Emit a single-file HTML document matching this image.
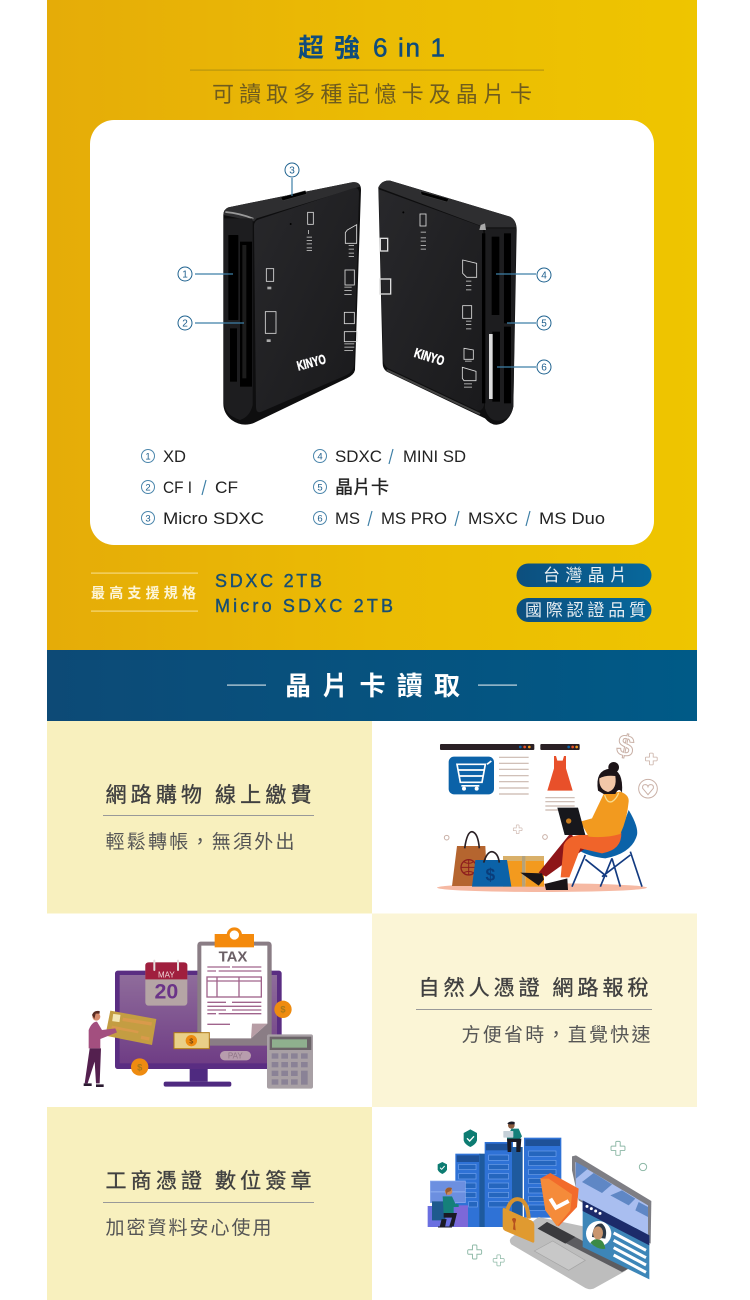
<!DOCTYPE html>
<html lang="zh-Hant">
<head>
<meta charset="utf-8">
<title>超強 6 in 1</title>
<style>
html,body{margin:0;padding:0;background:#fff}
svg{display:block}
text{font-family:"Liberation Sans","Noto Sans CJK TC",sans-serif}
.cn{font-family:"Noto Sans CJK TC","Liberation Sans",sans-serif}
</style>
</head>
<body>
<svg xmlns="http://www.w3.org/2000/svg" width="750" height="1300" viewBox="0 0 750 1300">
<defs>
<linearGradient id="y" x1="0" x2="1" y1="0" y2="0"><stop offset="0" stop-color="#E5AC08"/><stop offset=".5" stop-color="#EBBB04"/><stop offset="1" stop-color="#EEC500"/></linearGradient>
<linearGradient id="b" x1="0" x2="1" y1="0" y2="0"><stop offset="0" stop-color="#0D4A76"/><stop offset="1" stop-color="#005A87"/></linearGradient>
<linearGradient id="p" x1="0" x2="1"><stop offset="0" stop-color="#0D4F7E"/><stop offset="1" stop-color="#07689C"/></linearGradient>
<linearGradient id="d" x1="0" x2="1" y1="0" y2="1"><stop offset="0" stop-color="#28282b"/><stop offset="1" stop-color="#1a1a1c"/></linearGradient>
<linearGradient id="m" x1="0" x2="0" y1="0" y2="1"><stop offset="0" stop-color="#8F6C9B"/><stop offset="1" stop-color="#6F3D85"/></linearGradient>
<path id="plus" d="M-7,-20a3,3 0 0 1 3,-2h8a3,3 0 0 1 3,2v13h13a3,3 0 0 1 2,3v8a3,3 0 0 1-2,3h-13v13a3,3 0 0 1-3,2h-8a3,3 0 0 1-3,-2v-13h-13a3,3 0 0 1-2,-3v-8a3,3 0 0 1 2,-3h13z"/>
</defs>

<!-- yellow section -->
<rect x="47" y="0" width="650" height="650" fill="url(#y)"/>
<text class="cn" x="298" y="57" font-size="26" font-weight="700" fill="#0F4C7C">超</text>
<text class="cn" x="334" y="57" font-size="26" font-weight="700" fill="#0F4C7C">強</text>
<text x="373" y="56.5" font-size="26" fill="#0F4C7C" stroke="#0F4C7C" stroke-width=".5" textLength="72">6 in 1</text>
<rect x="190" y="69.5" width="354" height="1.2" fill="#B8960E"/>
<text class="cn" x="212" y="102" font-size="22" fill="#6F5C1E" textLength="320">可讀取多種記憶卡及晶片卡</text>

<rect x="90" y="120" width="564" height="425" rx="24" fill="#fff"/>

<!-- devices -->
<g transform="translate(160 150) scale(.33333)">
  <!-- left -->
  <path d="M205,172L575,97Q603,93 603,120L585,660Q582,675 560,685L290,815Q250,835 215,810Q190,790 190,760L190,195Q190,178 205,172Z" fill="#0e0e0f"/>
  <path d="M205,172L575,97Q598,96 600,110L290,205 282,214 190,195Q192,178 205,172Z" fill="#2e2e30"/>
  <path d="M196,186Q240,190 280,206" stroke="#9a9a9a" stroke-width="5" fill="none"/>
  <path d="M297,208L578,115Q598,110 597,130L582,645Q580,665 560,675L305,785Q288,792 288,770L282,228Q282,212 297,208Z" fill="url(#d)"/>
  <path d="M192,205H278V765Q270,800 240,810Q196,795 192,760Z" fill="#1d1d1f"/>
  <rect x="205" y="255" width="30" height="255" rx="2" fill="#000"/>
  <rect x="240" y="275" width="36" height="435" fill="#000"/>
  <rect x="247" y="285" width="12" height="400" fill="#1c1c1c"/>
  <rect x="210" y="535" width="21" height="160" fill="#000"/>
  <path d="M362,142L436,122 440,132 368,152Z" fill="#000" stroke="#555"/>
  <circle cx="392" cy="222" r="3" fill="#000"/>
  <g fill="none" stroke="#ddd" stroke-width="2.5">
    <rect x="443" y="187" width="17" height="36"/>
    <path d="M562,240L590,224V280H556V248Z"/>
    <rect x="319" y="356" width="22" height="38"/>
    <rect x="316" y="485" width="32" height="65"/>
    <rect x="555" y="360" width="28" height="45"/>
    <rect x="553" y="487" width="30" height="34"/>
    <rect x="553" y="545" width="38" height="30"/>
  </g>
  <g fill="#aaa">
    <rect x="444" y="240" width="3" height="12"/><rect x="440" y="260" width="16" height="3"/><rect x="440" y="270" width="16" height="3"/><rect x="440" y="280" width="16" height="3"/><rect x="440" y="292" width="16" height="3"/><rect x="440" y="300" width="16" height="3"/>
    <rect x="566" y="285" width="16" height="3"/><rect x="566" y="296" width="16" height="3"/><rect x="566" y="308" width="16" height="3"/><rect x="566" y="318" width="16" height="3"/>
    <rect x="322" y="410" width="12" height="8"/><rect x="320" y="568" width="12" height="8"/>
    <rect x="553" y="410" width="22" height="3"/><rect x="553" y="420" width="22" height="3"/><rect x="553" y="432" width="22" height="3"/>
    <rect x="553" y="580" width="30" height="3"/><rect x="553" y="590" width="30" height="3"/><rect x="553" y="600" width="26" height="3"/>
  </g>
  <text x="415" y="662" font-size="40" font-weight="700" fill="#fff" stroke="#fff" stroke-width="1.5" textLength="88" lengthAdjust="spacingAndGlyphs" transform="rotate(-15 415 662)">KINYO</text>
  <!-- right -->
  <path d="M655,112Q665,90 690,92L1050,200Q1070,210 1070,240L1060,770Q1055,800 1030,818Q1000,835 975,805L680,665Q668,655 668,640Z" fill="#0e0e0f"/>
  <path d="M655,112Q665,90 690,92L1050,200Q1068,212 1068,232H975Z" fill="#2e2e30"/>
  <path d="M656,118L955,226Q970,232 970,250L972,765Q965,790 945,778L685,655Q672,648 670,630Z" fill="url(#d)"/>
  <path d="M975,235H1068L1060,770Q1050,815 1010,812Q985,810 975,775Z" fill="#1d1d1f"/>
  <path d="M962,225L975,220 978,240 958,240Z" fill="#aaa"/>
  <path d="M680,660L960,792" stroke="#444" stroke-width="6"/>
  <rect x="966" y="250" width="10" height="510" fill="#000"/>
  <rect x="995" y="260" width="23" height="235" fill="#000"/>
  <rect x="1032" y="250" width="21" height="270" fill="#000"/>
  <rect x="1032" y="530" width="21" height="230" fill="#000"/>
  <rect x="997" y="545" width="23" height="210" fill="#000"/>
  <rect x="987" y="552" width="11" height="195" fill="#dcdcdc"/>
  <path d="M782,124L866,146 862,156 784,134Z" fill="#000" stroke="#555"/>
  <circle cx="730" cy="187" r="3" fill="#000"/>
  <g fill="none" stroke="#ddd" stroke-width="2.5">
    <rect x="780" y="192" width="18" height="36"/>
    <rect x="661" y="265" width="22" height="38" stroke-width="4"/>
    <rect x="660" y="387" width="32" height="45" stroke-width="4"/>
    <path d="M908,330L950,340V382H920L908,370Z"/>
    <rect x="908" y="467" width="27" height="38"/>
    <path d="M912,595L940,600V628H912Z"/>
    <path d="M907,652L948,664V692H912L907,685Z"/>
  </g>
  <g fill="#aaa">
    <rect x="782" y="245" width="16" height="3"/><rect x="782" y="262" width="16" height="3"/><rect x="782" y="272" width="16" height="3"/><rect x="782" y="285" width="16" height="3"/><rect x="782" y="296" width="16" height="3"/>
    <rect x="918" y="392" width="16" height="3"/><rect x="918" y="405" width="16" height="3"/><rect x="918" y="418" width="16" height="3"/>
    <rect x="918" y="512" width="16" height="3"/><rect x="918" y="522" width="16" height="3"/><rect x="918" y="535" width="16" height="3"/>
    <rect x="915" y="632" width="20" height="3"/><rect x="912" y="700" width="24" height="3"/><rect x="912" y="710" width="24" height="3"/>
  </g>
  <text x="760" y="620" font-size="40" font-weight="700" fill="#fff" stroke="#fff" stroke-width="1.5" textLength="92" lengthAdjust="spacingAndGlyphs" transform="rotate(17 760 620)">KINYO</text>
</g>

<!-- callouts -->
<g stroke="#3E7FA6" stroke-width="1.2" fill="none">
  <path d="M292,178V196M195,274H233M195,323H244M496,274H536M507,323H536M497,367H536"/>
</g>
<g fill="#fff" stroke="#1E628F" stroke-width="1">
  <circle cx="292" cy="170" r="7"/><circle cx="185" cy="274" r="7"/><circle cx="185" cy="323" r="7"/><circle cx="544" cy="275" r="7"/><circle cx="544" cy="323" r="7"/><circle cx="544" cy="367" r="7"/>
</g>
<g fill="#1E5F8D" font-size="10" text-anchor="middle">
  <text x="292" y="173.5">3</text><text x="185" y="277.5">1</text><text x="185" y="326.5">2</text><text x="544" y="278.5">4</text><text x="544" y="326.5">5</text><text x="544" y="370.5">6</text>
</g>

<!-- list -->
<g fill="#fff" stroke="#4B86AC" stroke-width="1">
  <circle cx="148" cy="456" r="6.5"/><circle cx="148" cy="487" r="6.5"/><circle cx="148" cy="518" r="6.5"/><circle cx="320" cy="456" r="6.5"/><circle cx="320" cy="487" r="6.5"/><circle cx="320" cy="518" r="6.5"/>
</g>
<g fill="#1E5F8D" font-size="9.5" text-anchor="middle">
  <text x="148" y="459.5">1</text><text x="148" y="490.5">2</text><text x="148" y="521.5">3</text><text x="320" y="459.5">4</text><text x="320" y="490.5">5</text><text x="320" y="521.5">6</text>
</g>
<g fill="#222" font-size="17">
  <text x="163" y="462" textLength="23" lengthAdjust="spacingAndGlyphs">XD</text>
  <text x="163" y="493" textLength="29" lengthAdjust="spacingAndGlyphs">CF I</text>
  <text x="215" y="493" textLength="23" lengthAdjust="spacingAndGlyphs">CF</text>
  <text x="163" y="524" textLength="101" lengthAdjust="spacingAndGlyphs">Micro SDXC</text>
  <text x="335" y="462" textLength="47" lengthAdjust="spacingAndGlyphs">SDXC</text>
  <text x="403" y="462" textLength="63" lengthAdjust="spacingAndGlyphs">MINI SD</text>
  <text class="cn" x="335" y="493.5" font-size="18" stroke="#222" stroke-width=".35">晶片卡</text>
  <text x="335" y="524" textLength="25" lengthAdjust="spacingAndGlyphs">MS</text>
  <text x="381" y="524" textLength="66" lengthAdjust="spacingAndGlyphs">MS PRO</text>
  <text x="468" y="524" textLength="50" lengthAdjust="spacingAndGlyphs">MSXC</text>
  <text x="539" y="524" textLength="66" lengthAdjust="spacingAndGlyphs">MS Duo</text>
</g>
<g stroke="#3E7FA6" stroke-width="1.2">
  <path d="M393,449L389,464M206,480L202,495M372,511L368,526M459,511L455,526M530,511L526,526"/>
</g>

<!-- spec row -->
<rect x="91" y="572.5" width="107" height="1.2" fill="#F6D97A"/>
<rect x="91" y="610.5" width="107" height="1.2" fill="#F6D97A"/>
<text class="cn" x="91" y="598" font-size="14" font-weight="700" fill="#FDF5D8" textLength="105">最高支援規格</text>
<text x="215" y="587" font-size="18" fill="#174E74" stroke="#174E74" stroke-width=".4" textLength="107">SDXC 2TB</text>
<text x="215" y="612" font-size="18" fill="#174E74" stroke="#174E74" stroke-width=".4" textLength="178">Micro SDXC 2TB</text>
<rect x="516.500" y="563.500" width="135" height="23.500" rx="11.700" fill="url(#p)"/>
<rect x="516.500" y="598" width="135" height="24" rx="12" fill="url(#p)"/>
<text class="cn" x="543" y="581" font-size="17" fill="#E8EEF2" textLength="84">台灣晶片</text>
<text class="cn" x="525" y="616" font-size="17" fill="#E8EEF2" textLength="121">國際認證品質</text>

<!-- blue band -->
<rect x="47" y="650" width="650" height="71" fill="url(#b)"/>
<rect x="227" y="684.500" width="39" height="1.200" fill="#C9D9E2"/>
<rect x="478" y="684.500" width="39" height="1.200" fill="#C9D9E2"/>
<text class="cn" x="285" y="695" font-size="26" font-weight="700" fill="#fff" textLength="175">晶片卡讀取</text>

<!-- grid -->
<rect x="47" y="721" width="325" height="192.500" fill="#F8F0BE"/>
<rect x="372" y="913.500" width="325" height="193.500" fill="#FBF5D6"/>
<rect x="47" y="1107" width="325" height="193" fill="#F8F0BE"/>

<text class="cn" x="105.500" y="802" font-size="21" fill="#404040" stroke="#404040" stroke-width=".35" textLength="206">網路購物 線上繳費</text>
<rect x="103" y="815" width="211" height="1" fill="#999"/>
<text class="cn" x="105.500" y="848" font-size="19" fill="#555" textLength="189">輕鬆轉帳&#65292;無須外出</text>
<text class="cn" x="418.500" y="995" font-size="21" fill="#404040" stroke="#404040" stroke-width=".35" textLength="230">自然人憑證 網路報稅</text>
<rect x="416" y="1009" width="236" height="1" fill="#999"/>
<text class="cn" x="461.500" y="1041" font-size="19" fill="#555" textLength="189">方便省時&#65292;直覺快速</text>
<text class="cn" x="105.500" y="1188" font-size="21" fill="#404040" stroke="#404040" stroke-width=".35" textLength="206">工商憑證 數位簽章</text>
<rect x="103" y="1202" width="211" height="1" fill="#999"/>
<text class="cn" x="105.500" y="1234" font-size="19" fill="#555" textLength="166">加密資料安心使用</text>

<!-- illustration 1 -->
<g transform="translate(372 720) scale(.33333)">
  <rect x="204" y="72" width="283" height="18" rx="3" fill="#2A2025"/>
  <rect x="505" y="72" width="118" height="18" rx="3" fill="#2A2025"/>
  <g><circle cx="445" cy="81" r="4" fill="#0B62A8"/><circle cx="458" cy="81" r="4" fill="#E8502A"/><circle cx="472" cy="81" r="4" fill="#F39A1E"/><circle cx="590" cy="81" r="4" fill="#0B62A8"/><circle cx="602" cy="81" r="4" fill="#E8502A"/><circle cx="614" cy="81" r="4" fill="#F39A1E"/></g>
  <rect x="230" y="110" width="136" height="113" rx="16" fill="#0B62A8"/>
  <path d="M255,133H340L330,187H265ZM258,150H337M260,168H333M345,133L358,123" fill="none" stroke="#fff" stroke-width="5"/>
  <circle cx="276" cy="206" r="6" fill="#fff"/><circle cx="314" cy="206" r="6" fill="#fff"/><rect x="268" y="195" width="54" height="5" fill="#fff"/>
  <path d="M381,112H470M381,130H470M381,148H470M381,167H470M381,185H470M381,204H470M381,222H470M520,233H608M520,245H608M520,258H608M520,270H580" stroke="#C9B8AE" stroke-width="3.500"/>
  <path d="M546,108H552L556,122H572L576,108H582L582,145 602,212H526L546,145Z" fill="#E8502A"/>
  <text x="760" y="108" font-size="90" text-anchor="middle" font-weight="700" fill="#fff" stroke="#C9B0A6" stroke-width="3" transform="rotate(12 760 80)">$</text>
  <use href="#plus" x="838" y="117" fill="#fff" stroke="#C9B0A6" stroke-width="3" transform="translate(838 117) scale(.8) translate(-838 -117)"/>
  <circle cx="828" cy="206" r="28" fill="#fff" stroke="#C9B0A6" stroke-width="3"/>
  <path d="M828,224L812,205Q810,194 820,194Q826,194 828,200Q830,194 836,194Q846,194 844,205Z" fill="#fff" stroke="#C9B0A6" stroke-width="3"/>
  <circle cx="224" cy="353" r="7" fill="#fff" stroke="#C9B0A6" stroke-width="3"/>
  <circle cx="519" cy="351" r="7" fill="#fff" stroke="#C9B0A6" stroke-width="3"/>
  <use href="#plus" x="437" y="328" fill="#fff" stroke="#C9B0A6" stroke-width="3" transform="translate(437 328) scale(.6) translate(-437 -328)"/>
  <ellipse cx="510" cy="503" rx="315" ry="13" fill="#F6B9A3"/>
  <rect x="393" y="408" width="57" height="92" fill="#F39A1E"/><rect x="460" y="408" width="56" height="92" fill="#F39A1E"/>
  <rect x="393" y="408" width="123" height="15" fill="#D9B06A"/><rect x="450" y="408" width="10" height="92" fill="#B5A27A"/>
  <path d="M255,378H340L346,498H240Z" fill="#B5652F"/>
  <path d="M278,385Q285,335 300,335Q318,338 322,385" fill="none" stroke="#2A2025" stroke-width="5"/>
  <circle cx="290" cy="442" r="23" fill="none" stroke="#8E1E1E" stroke-width="4"/><path d="M267,442H313M290,419V465M275,425Q290,435 305,425M275,458Q290,450 305,458" fill="none" stroke="#8E1E1E" stroke-width="3"/>
  <path d="M310,420H405L418,500H300Z" fill="#0B62A8"/>
  <path d="M335,428Q345,395 360,395Q378,398 382,428" fill="none" stroke="#2A2025" stroke-width="5"/>
  <text x="355" y="482" font-size="52" font-weight="700" text-anchor="middle" fill="#0A3D7A">$</text>
  <path d="M770,270Q800,320 795,345Q780,400 700,415Q650,410 615,388L700,370 745,340Z" fill="#0B62A8"/>
  <path d="M640,405L600,500M775,395L810,500M720,415L685,500M640,418L705,470M775,405L690,470M720,415L745,500" stroke="#123A80" stroke-width="5" fill="none"/>
  <path d="M595,340L500,458 522,470 640,385Z" fill="#8E1518"/>
  <path d="M748,338Q750,390 690,400L625,385 592,472H566L575,375Q590,340 650,345Z" fill="#F0642A"/>
  <path d="M445,458L510,460 516,478 500,497Z" fill="#1A1518"/><path d="M518,492L586,475 588,510H522Z" fill="#1A1518"/>
  <path d="M695,222L745,215Q772,225 770,245Q765,300 745,342Q700,355 650,350L625,305 660,295Z" fill="#F29A1F"/>
  <path d="M698,225Q705,250 720,245Q735,235 740,218" fill="none" stroke="#F7DC8F" stroke-width="4"/>
  <path d="M556,263H618L640,345H578Z" fill="#17171C"/><circle cx="590" cy="303" r="8" fill="#C77A1E"/>
  <circle cx="725" cy="142" r="16" fill="#1C1418"/>
  <path d="M678,212Q668,150 715,146Q755,150 750,218Q740,200 730,222H695Z" fill="#1C1418"/>
  <path d="M682,175Q700,165 730,168Q736,208 708,216Q680,208 682,175Z" fill="#F2C7A8"/>
</g>

<!-- illustration 2 -->
<g transform="translate(47 915) scale(.33333)">
  <rect x="204" y="167" width="500" height="295" rx="8" fill="#5A2D82"/>
  <rect x="218" y="180" width="472" height="265" fill="url(#m)"/>
  <path d="M428,462H482V500H428Z" fill="#4F2A80"/><rect x="350" y="500" width="203" height="15" rx="6" fill="#4F2A80"/>
  <rect x="295" y="142" width="126" height="130" rx="10" fill="#B5A5A5"/>
  <path d="M295,193V152Q295,142 305,142H411Q421,142 421,152V193Z" fill="#A01F3E"/>
  <rect x="319" y="134" width="6" height="34" rx="3" fill="#E4DCDC"/><rect x="390" y="134" width="6" height="34" rx="3" fill="#E4DCDC"/>
  <text x="358" y="188" font-size="24" fill="#F0D9D9" text-anchor="middle">MAY</text>
  <text x="358" y="250" font-size="64" font-weight="700" fill="#6B3488" text-anchor="middle">20</text>
  <rect x="451" y="80" width="223" height="312" rx="10" fill="#8A7D85"/>
  <path d="M463,92H661V326L612,370H463Z" fill="#fff"/>
  <path d="M615,326H661L612,370Z" fill="#B79DA5"/>
  <rect x="503" y="57" width="118" height="40" fill="#F48A0C"/><circle cx="562" cy="60" r="23" fill="#F48A0C"/><circle cx="562" cy="60" r="14" fill="#fff"/>
  <text x="558" y="139" font-size="45" font-weight="700" fill="#6B6066" text-anchor="middle">TAX</text>
  <g stroke="#A0648C" stroke-width="4" fill="none">
    <path d="M481,156H549M555,156H643M481,168H507M515,168H643M481,262H537M555,262H643M481,274H643M481,285H537M555,285H643M481,296H507M515,296H643M481,328H549"/>
    <rect x="480" y="186" width="163" height="60"/><path d="M510,186V246M576,186V246M480,198H643"/>
  </g>
  <circle cx="708" cy="283" r="26" fill="#EE8B10"/><text x="708" y="293" font-size="28" font-weight="700" fill="#A8791A" text-anchor="middle">$</text>
  <circle cx="278" cy="456" r="26" fill="#EE8B10"/><text x="278" y="466" font-size="28" font-weight="700" fill="#A8791A" text-anchor="middle">$</text>
  <rect x="381" y="353" width="106" height="48" fill="#E9CF88" stroke="#B07A17" stroke-width="3"/>
  <circle cx="433" cy="377" r="17" fill="#EE8B10"/><text x="433" y="385" font-size="22" font-weight="700" fill="#7A4A10" text-anchor="middle">$</text>
  <rect x="519" y="408" width="93" height="28" rx="14" fill="#B79DAD"/><text x="565" y="430" font-size="24" fill="#8E7486" text-anchor="middle">PAY</text>
  <rect x="660" y="358" width="138" height="163" rx="6" fill="#A8A0A5"/>
  <rect x="668" y="365" width="125" height="40" fill="#6B6468"/><rect x="675" y="373" width="105" height="25" fill="#8FB08E"/>
  <g fill="#8A8296">
    <rect x="674" y="415" width="20" height="16"/><rect x="703" y="415" width="20" height="16"/><rect x="732" y="415" width="20" height="16"/><rect x="762" y="415" width="20" height="16"/>
    <rect x="674" y="441" width="20" height="16"/><rect x="703" y="441" width="20" height="16"/><rect x="732" y="441" width="20" height="16"/><rect x="762" y="441" width="20" height="16"/>
    <rect x="674" y="467" width="20" height="16"/><rect x="703" y="467" width="20" height="16"/><rect x="732" y="467" width="20" height="16"/><rect x="762" y="467" width="20" height="42"/>
    <rect x="674" y="493" width="20" height="16"/><rect x="703" y="493" width="20" height="16"/><rect x="732" y="493" width="20" height="16"/>
  </g>
  <path d="M190,287L328,312 315,390 175,362Z" fill="#C49D42"/>
  <rect x="197" y="298" width="22" height="22" fill="#F3E6B5" transform="rotate(8 208 309)"/>
  <path d="M228,308L315,322 313,332 226,318ZM195,332L275,348 273,355 193,340ZM283,362L308,367 306,377 281,372Z" fill="#D99A4B"/>
  <path d="M125,345Q135,320 150,320L165,345 205,340 210,352 160,372V400H125Z" fill="#A34F7F"/>
  <path d="M128,400H162L158,505H147L143,440 122,505H113Z" fill="#54204F"/>
  <path d="M110,505H134V513H110ZM147,508H170V516H147Z" fill="#2A1A30"/>
  <circle cx="148" cy="305" r="12" fill="#D88C6E"/><path d="M135,300Q140,285 158,288V296H146L142,312Z" fill="#5A2C22"/>
</g>

<!-- illustration 3 -->
<g transform="translate(372 1107) scale(.33333)">
  <rect x="285" y="335" width="140" height="25" fill="#1E5A9E"/>
  <rect x="250" y="140" width="75" height="220" fill="#2F72D6"/><rect x="254" y="145" width="67" height="20" fill="#1E5198"/>
  <rect x="322" y="140" width="20" height="220" fill="#1E5A9E"/>
  <rect x="338" y="105" width="85" height="255" fill="#2F72D6"/><rect x="342" y="110" width="77" height="20" fill="#1E5198"/>
  <rect x="420" y="120" width="32" height="240" fill="#1E5A9E"/>
  <rect x="456" y="92" width="112" height="240" fill="#2F72D6"/><rect x="460" y="97" width="104" height="20" fill="#1E5198"/>
  <g fill="#2566BE" stroke="#6EA0EC" stroke-width="2">
    <rect x="260" y="172" width="52" height="16"/><rect x="260" y="200" width="52" height="16"/><rect x="260" y="228" width="52" height="16"/><rect x="260" y="256" width="52" height="16"/><rect x="290" y="284" width="26" height="16"/>
    <rect x="350" y="144" width="60" height="16"/><rect x="350" y="172" width="60" height="16"/><rect x="350" y="200" width="60" height="16"/><rect x="350" y="228" width="60" height="16"/><rect x="350" y="256" width="60" height="16"/><rect x="350" y="284" width="60" height="16"/>
    <rect x="470" y="132" width="82" height="16"/><rect x="470" y="160" width="82" height="16"/><rect x="470" y="187" width="82" height="16"/><rect x="470" y="214" width="82" height="16"/><rect x="470" y="242" width="60" height="16"/><rect x="470" y="268" width="60" height="16"/><rect x="470" y="294" width="50" height="16"/>
  </g>
  <path d="M295,67L315,78V100Q312,112 295,120Q278,112 275,100V78Z" fill="#0D7C72"/><path d="M285,94L293,102 306,88" fill="none" stroke="#fff" stroke-width="4"/>
  <path d="M211,165L225,172V188Q222,196 211,201Q200,196 197,188V172Z" fill="#0D7C72"/><path d="M204,182L209,187 218,177" fill="none" stroke="#fff" stroke-width="3"/>
  <circle cx="418" cy="55" r="10" fill="#8A5B3E"/><path d="M406,50Q412,40 428,45V52H410Z" fill="#1A1A24"/>
  <path d="M405,92L418,65H440L450,88 440,100H405Z" fill="#15807A"/>
  <rect x="394" y="72" width="30" height="20" rx="2" fill="#C5D0D8"/>
  <path d="M405,95H448L445,135H433V105H418V135H407Z" fill="#1A1A24"/>
  <rect x="175" y="222" width="105" height="32" fill="#6C8FE0" stroke="#8FAEF0" stroke-width="2"/>
  <rect x="175" y="255" width="105" height="32" fill="#6C8FE0" stroke="#8FAEF0" stroke-width="2"/>
  <rect x="167" y="297" width="118" height="63" fill="#6A6FE0"/>
  <rect x="250" y="295" width="38" height="65" fill="#7D68D8"/>
  <path d="M180,283H220V340H180Z" fill="#1E5A8E"/>
  <path d="M212,268L240,268 250,290 260,292V300H245V320H215Z" fill="#15807A"/>
  <circle cx="230" cy="253" r="11" fill="#C98A5A"/><path d="M220,250Q225,238 240,243L236,252 226,256 224,266Z" fill="#9A5B2E"/>
  <path d="M215,318H255L245,358H232L240,332H215Z" fill="#1A1A24"/>
  <path d="M205,358L210,338H222L218,358ZM198,360H240" stroke="#1A1A24" stroke-width="3" fill="#1A1A24"/>
  <path d="M500,330L835,400 760,492 665,545Q650,550 635,540L418,412Q408,400 420,390Z" fill="#BDBDBD"/>
  <path d="M600,148L612,145 838,282 836,410 620,280 600,190Z" fill="#7E7E84"/>
  <path d="M610,165L828,295V400L612,270Z" fill="#A9BEF0"/>
  <path d="M612,165L648,185 612,215ZM665,198L720,232 690,258 630,225ZM750,250L790,275 770,295 715,265ZM800,285L828,300V330L790,310Z" fill="#5F87C5"/>
  <path d="M497,365L525,345 780,480 750,495Z" fill="#5C5C60"/>
  <path d="M497,365L525,345 610,390 580,410Z" fill="#3A3A3D"/>
  <path d="M487,432L542,402 640,460 590,490Z" fill="#C8C8C8" stroke="#A4A4A4" stroke-width="2"/>
  <path d="M405,310Q420,265 450,280Q468,295 470,335" fill="none" stroke="#D6922F" stroke-width="12"/>
  <path d="M392,308Q392,300 400,305L478,340Q487,345 487,355V402Q487,410 478,405L400,372Q392,368 392,360Z" fill="#E09A30"/>
  <path d="M420,338a6,6 0 0 1 12,2l-3,10 2,20-8,-3 2,-18Z" fill="#B5501F"/>
  <path d="M505,215L535,198 620,245 615,300 560,358 520,310Z" fill="#F26B2B"/>
  <path d="M505,215L530,215 600,262 595,310 555,358 520,310Z" fill="#F58B3A"/>
  <path d="M535,275L552,302 590,282" fill="none" stroke="#fff" stroke-width="12"/>
  <path d="M632,280L832,385V517L632,420Z" fill="#3D86B8"/>
  <path d="M632,280L832,385V415L632,312Z" fill="#1C2B6A"/>
  <circle cx="645" cy="298" r="4.500" fill="#fff"/><circle cx="658" cy="305" r="4.500" fill="#fff"/><circle cx="671" cy="312" r="4.500" fill="#fff"/><circle cx="684" cy="319" r="4.500" fill="#fff"/>
  <circle cx="680" cy="380" r="38" fill="#fff"/>
  <path d="M660,390Q665,345 690,350Q708,365 700,395Z" fill="#2E3A46"/><ellipse cx="678" cy="378" rx="15" ry="20" fill="#C9966F"/>
  <path d="M655,408Q665,393 680,398Q695,398 700,425 680,430 655,408Z" fill="#3B8A45"/>
  <path d="M725,378L822,430M725,400L822,452M725,422L822,474M725,444L822,496" stroke="#fff" stroke-width="9"/>
  <use href="#plus" x="0" y="0" fill="#fff" stroke="#8DB8A6" stroke-width="3" transform="translate(738 124) scale(.95)"/>
  <use href="#plus" x="0" y="0" fill="#fff" stroke="#8DB8A6" stroke-width="3" transform="translate(308 435) scale(.95)"/>
  <use href="#plus" x="0" y="0" fill="#fff" stroke="#8DB8A6" stroke-width="3" transform="translate(380 460) scale(.75)"/>
  <circle cx="813" cy="180" r="11" fill="#fff" stroke="#8DB8A6" stroke-width="3"/>
</g>
</svg>
</body>
</html>
